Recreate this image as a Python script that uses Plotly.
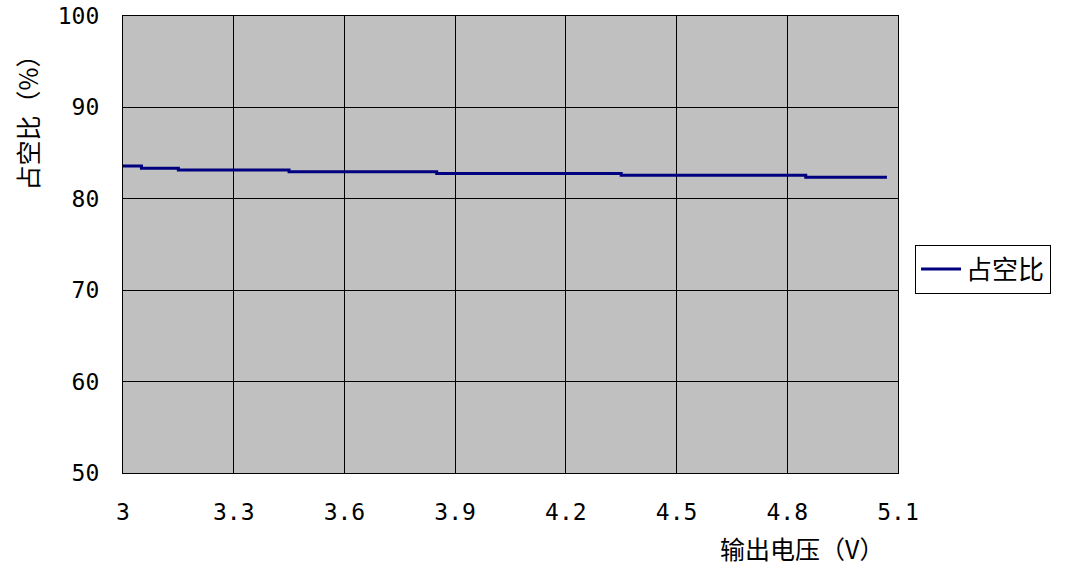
import plotly.graph_objects as go

# Data
voltage = [3.0, 3.05, 3.15, 3.45, 3.85, 4.35, 4.85, 5.07]
duty = [83.6, 83.35, 83.15, 82.95, 82.77, 82.57, 82.35, 82.35]

x_ticks = [3.0, 3.3, 3.6, 3.9, 4.2, 4.5, 4.8, 5.1]
x_tick_labels = ["3", "3.3", "3.6", "3.9", "4.2", "4.5", "4.8", "5.1"]
y_ticks = [50, 60, 70, 80, 90, 100]

series_name = "占空比"
x_title = "输出电压（V）"
y_title = "占空比（%）"

mono = "DejaVu Sans Mono"
cjk = "Noto Sans CJK SC"

fig = go.Figure()
fig.add_trace(go.Scatter(
    x=voltage, y=duty, mode="lines", name=series_name,
    line=dict(color="#000080", width=3, shape="hv"),
))

fig.update_layout(
    width=1073, height=567,
    margin=dict(l=123, r=175, t=16, b=94, autoexpand=False),
    paper_bgcolor="white",
    plot_bgcolor="#C0C0C0",
    showlegend=True,
    legend=dict(
        x=1.022, y=0.446, xanchor="left", yanchor="middle",
        bordercolor="black", borderwidth=1, bgcolor="white",
        font=dict(family=cjk, size=26, color="black"),
        itemwidth=40, tracegroupgap=0,
    ),
    xaxis=dict(
        range=[3.0, 5.1], tickvals=x_ticks, ticktext=x_tick_labels,
        showgrid=True, gridcolor="black", gridwidth=1.3,
        showline=True, linecolor="black", linewidth=1.3, mirror=True,
        zeroline=False, ticks="", ticklabelstandoff=18, automargin=False,
        tickfont=dict(family=mono, size=23, color="black"),
    ),
    yaxis=dict(
        range=[50, 100], tickvals=y_ticks,
        showgrid=True, gridcolor="black", gridwidth=1.3,
        showline=True, linecolor="black", linewidth=1.3, mirror=True,
        zeroline=False, ticks="", ticklabelstandoff=18, automargin=False,
        tickfont=dict(family=mono, size=23, color="black"),
    ),
    annotations=[
        dict(text=x_title, xref="paper", yref="paper", x=0.985, y=-0.165,
             xanchor="right", yanchor="middle", showarrow=False,
             font=dict(family=cjk, size=25, color="black")),
        dict(text=y_title, xref="paper", yref="paper", x=-0.124, y=0.78,
             xanchor="center", yanchor="middle", showarrow=False, textangle=-90,
             font=dict(family=cjk, size=25, color="black")),
    ],
)

fig.write_html("out.html", config={"displayModeBar": False},
               post_script="document.body.style.margin='0';document.body.style.overflow='hidden';")
